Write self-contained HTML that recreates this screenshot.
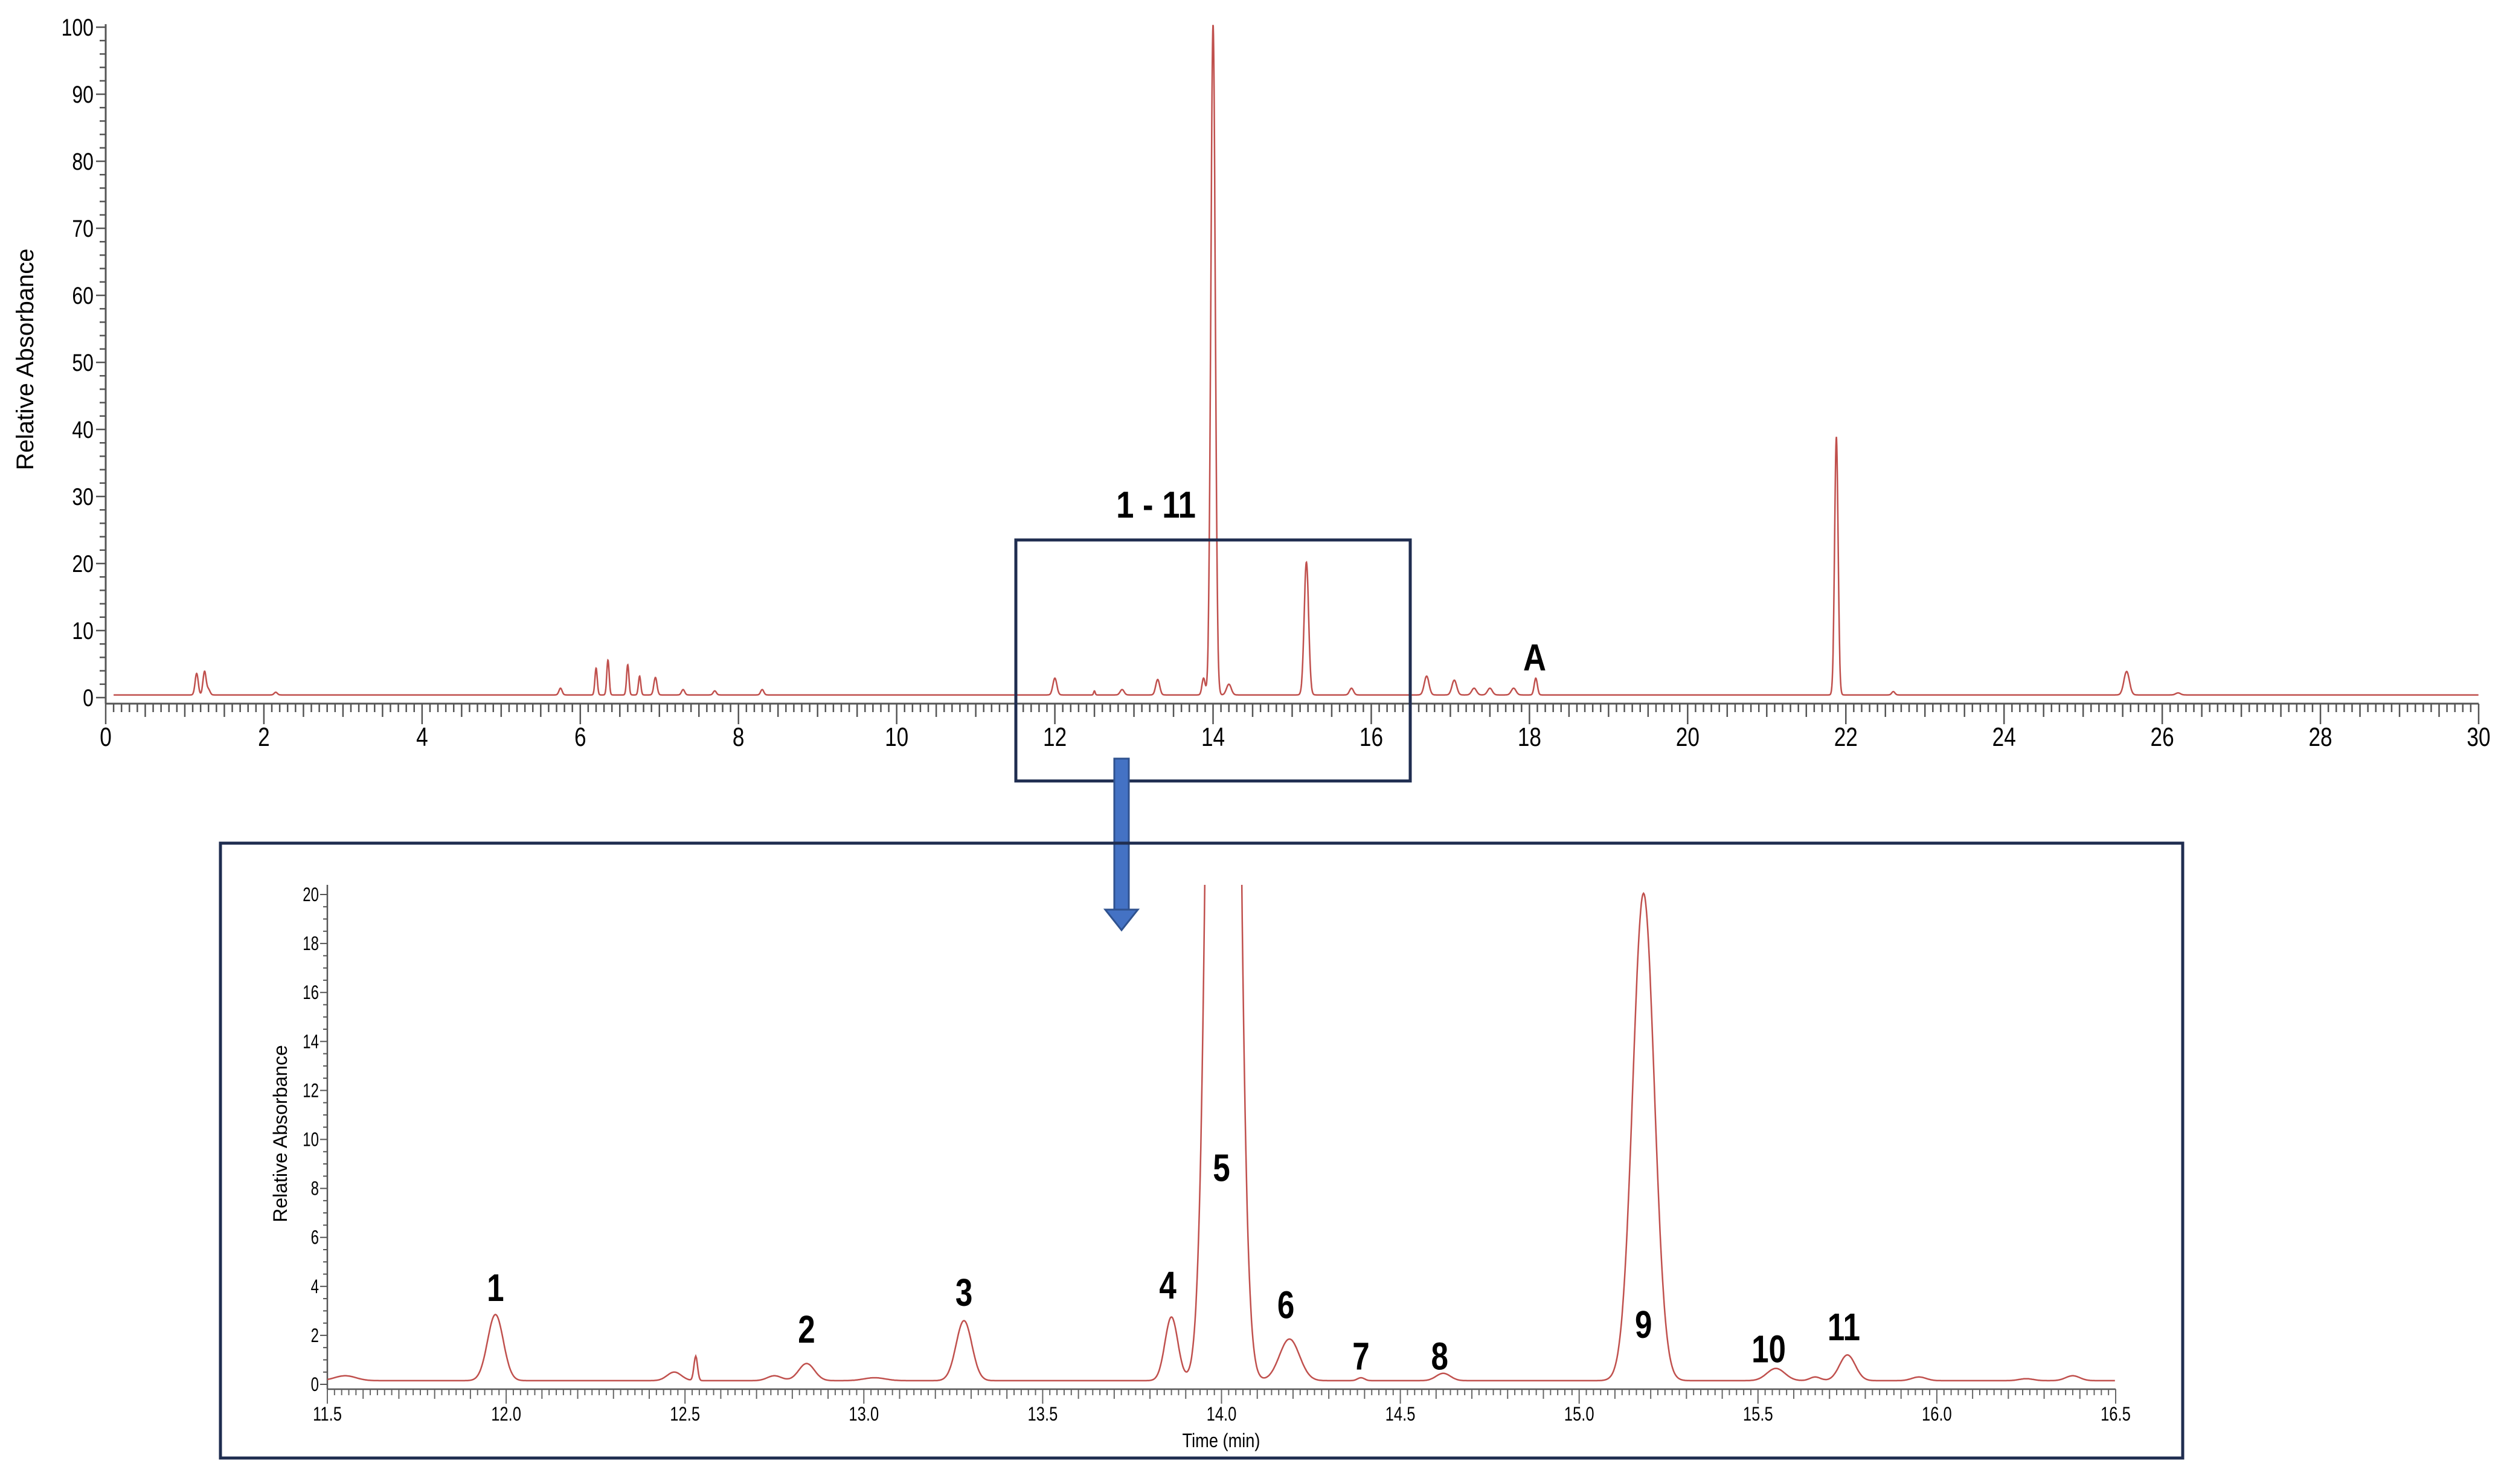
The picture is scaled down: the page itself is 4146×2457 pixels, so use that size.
<!DOCTYPE html>
<html><head><meta charset="utf-8">
<style>
html,body{margin:0;padding:0;background:#fff;}
svg{display:block;}
text{font-family:"Liberation Sans",sans-serif;}
</style></head>
<body>
<svg id="fig" width="4146" height="2457" viewBox="0 0 4146 2457" xmlns="http://www.w3.org/2000/svg">
  <rect width="4146" height="2457" fill="#fff"/>
  <g id="top"></g>
  <g id="bot"></g>
  <rect x="1682" y="894" width="653" height="399" fill="none" stroke="#1f2d50" stroke-width="5"/>
  <text x="1914" y="857" font-size="62" font-weight="bold" text-anchor="middle" transform="translate(1914,0) scale(0.85,1) translate(-1914,0)">1 - 11</text>
  <text x="2541" y="1110" font-size="62" font-weight="bold" text-anchor="middle" transform="translate(2541,0) scale(0.85,1) translate(-2541,0)">A</text>
  <g>
    <rect x="1845" y="1256" width="24" height="250" fill="#4472c4" stroke="#2f528f" stroke-width="3"/>
    <polygon points="1830,1506 1884,1506 1857,1540" fill="#4472c4" stroke="#2f528f" stroke-width="3"/>
  </g>
  <rect x="365" y="1396" width="3249" height="1018" fill="none" stroke="#1f2d50" stroke-width="5"/>
</svg>
<script>
// ---- top chart data ----
const topTimes   = [1.15,1.25,1.3,2.15,5.75,6.2,6.35,6.6,6.75,6.95,7.3,7.7,8.3,12.0,12.5,12.85,13.3,13.88,14.0,14.2,15.18,15.75,16.7,17.05,17.3,17.5,17.8,18.08,21.88,22.6,25.55,26.2];
const topHeights = [3.2,3.5,0.8,0.4,1.0,4.0,5.2,4.5,2.8,2.6,0.8,0.6,0.8,2.5,0.6,0.8,2.3,2.5,100,1.6,19.8,1.0,2.8,2.2,1.0,1.0,1.0,2.5,38.5,0.5,3.5,0.3];
const topWidths  = [0.02,0.02,0.02,0.02,0.02,0.015,0.015,0.015,0.015,0.02,0.02,0.02,0.02,0.025,0.01,0.025,0.025,0.02,0.028,0.03,0.028,0.025,0.03,0.03,0.03,0.03,0.03,0.02,0.022,0.02,0.035,0.03];
const topXTicks = [0,2,4,6,8,10,12,14,16,18,20,22,24,26,28,30];
const topYTicks = [0,10,20,30,40,50,60,70,80,90,100];
// ---- inset data ----
const botTimes   = [11.55,11.97,12.47,12.53,12.75,12.84,13.03,13.28,13.86,14.005,14.19,14.39,14.62,15.18,15.55,15.66,15.75,15.95,16.25,16.38];
const botHeights = [0.2,2.7,0.35,1.0,0.2,0.7,0.12,2.45,2.6,100,1.7,0.12,0.3,19.9,0.5,0.15,1.05,0.15,0.08,0.2];
const botWidths  = [0.03,0.022,0.02,0.005,0.02,0.022,0.03,0.022,0.018,0.029,0.028,0.01,0.02,0.03,0.025,0.015,0.022,0.02,0.02,0.02];
const botXTicks = [11.5,12.0,12.5,13.0,13.5,14.0,14.5,15.0,15.5,16.0,16.5];
const botYTicks = [0,2,4,6,8,10,12,14,16,18,20];
const botLabels = ["1","2","3","4","5","6","7","8","9","10","11"];
const botLabelT = [11.97,12.84,13.28,13.85,14.0,14.18,14.39,14.61,15.18,15.53,15.74];
const botLabelY = [3.4,1.7,3.2,3.5,8.3,2.7,0.6,0.6,1.9,0.9,1.8];

const NS="http://www.w3.org/2000/svg";
function mk(tag,attrs,parent){const e=document.createElementNS(NS,tag);for(const k in attrs)e.setAttribute(k,attrs[k]);parent.appendChild(e);return e;}
function signal(t,T,H,W,base){let s=base;for(let i=0;i<T.length;i++){const d=(t-T[i])/W[i];if(Math.abs(d)<8)s+=H[i]*Math.exp(-0.5*d*d);}return s;}

// ---------- TOP ----------
(function(){
  const g=document.getElementById('top');
  const x0=175,x1=4104,y0=1155,y1=45, X=t=>x0+(t-0)/30*(x1-x0), Y=v=>y0-(v/100)*(y0-y1);
  const ax=mk('line',{x1:x0,y1:y1-5,x2:x0,y2:1165,stroke:'#555','stroke-width':3},g);
  
  const bx=mk('line',{x1:x0,y1:1165,x2:x1,y2:1165,stroke:'#555','stroke-width':3},g);
  
  for(let v=0;v<=100;v+=2){const l=mk('line',{x1:x0-(v%10===0?16:10),y1:Y(v),x2:x0,y2:Y(v),stroke:'#555','stroke-width':2.5},g);
    }
  topYTicks.forEach(v=>{const t=mk('text',{x:x0-20,y:Y(v)+14,'font-size':40,'text-anchor':'end',transform:`translate(${x0-20},0) scale(0.8,1) translate(${-(x0-20)},0)`},g);t.textContent=v;
    });
  for(let i=0;i<=300;i++){const t=i/10;const len=i%20===0?34:(i%5===0?22:14);
    const l=mk('line',{x1:X(t),y1:1165,x2:X(t),y2:1165+len,stroke:'#555','stroke-width':2.5},g);
    }
  topXTicks.forEach(v=>{const t=mk('text',{x:X(v),y:1235,'font-size':44,'text-anchor':'middle',transform:`translate(${X(v)},0) scale(0.8,1) translate(${-X(v)},0)`},g);t.textContent=v;
    });
  const yt=mk('text',{x:0,y:0,'font-size':40,'text-anchor':'middle',transform:'translate(55,595) rotate(-90)'},g);yt.textContent='Relative Absorbance';
  
  let d='';for(let t=0.1;t<=30;t+=0.003){const v=signal(t,topTimes,topHeights,topWidths,0.4);d+=(d?'L':'M')+X(t).toFixed(1)+','+Y(v).toFixed(1);}
  const p=mk('path',{d:d,fill:'none',stroke:'#c0504d','stroke-width':2.5},g);
  
})();

// ---------- BOTTOM ----------
(function(){
  const g=document.getElementById('bot');
  const x0=542,x1=3503,y0=2292,y1=1481, X=t=>x0+(t-11.5)/5*(x1-x0), Y=v=>y0-(v/20)*(y0-y1);
  const cp=mk('clipPath',{id:'bclip'},g);mk('rect',{x:x0,y:1465,width:x1-x0+5,height:900},cp);
  const ax=mk('line',{x1:x0,y1:1465,x2:x0,y2:2300,stroke:'#555','stroke-width':2.5},g);
  
  const bx=mk('line',{x1:x0,y1:2300,x2:x1,y2:2300,stroke:'#555','stroke-width':2.5},g);
  
  for(let i=0;i<=40;i++){const v=i/2;const l=mk('line',{x1:x0-(i%4===0?12:7),y1:Y(v),x2:x0,y2:Y(v),stroke:'#555','stroke-width':2},g);
    }
  botYTicks.forEach(v=>{const t=mk('text',{x:x0-14,y:Y(v)+11,'font-size':32,'text-anchor':'end',transform:`translate(${x0-14},0) scale(0.75,1) translate(${-(x0-14)},0)`},g);t.textContent=v;
    });
  for(let i=0;i<=250;i++){const t=11.5+i*0.02;const len=i%25===0?24:(i%5===0?16:10);
    const l=mk('line',{x1:X(t),y1:2300,x2:X(t),y2:2300+len,stroke:'#666','stroke-width':2},g);
    }
  botXTicks.forEach(v=>{const t=mk('text',{x:X(v),y:2352,'font-size':32,'text-anchor':'middle',transform:`translate(${X(v)},0) scale(0.8,1) translate(${-X(v)},0)`},g);t.textContent=v.toFixed(1);
    });
  const xt=mk('text',{x:2022,y:2396,'font-size':32,'text-anchor':'middle',transform:'translate(2022,0) scale(0.85,1) translate(-2022,0)'},g);xt.textContent='Time (min)';
  
  const yt=mk('text',{x:0,y:0,'font-size':32,'text-anchor':'middle',transform:'translate(475,1877) rotate(-90)'},g);yt.textContent='Relative Absorbance';
  
  let d='';for(let t=11.5;t<=16.5;t+=0.002){const v=signal(t,botTimes,botHeights,botWidths,0.15);d+=(d?'L':'M')+X(t).toFixed(1)+','+Math.max(Y(v),1400).toFixed(1);}
  const p=mk('path',{d:d,fill:'none',stroke:'#c0504d','stroke-width':2.5,'clip-path':'url(#bclip)'},g);
  
  botLabels.forEach((s,i)=>{const x=X(botLabelT[i]);const t=mk('text',{x:x,y:Y(botLabelY[i]),'font-size':64,'font-weight':'bold','text-anchor':'middle',transform:`translate(${x},0) scale(0.8,1) translate(${-x},0)`},g);t.textContent=s;
    });
})();
</script>
</body></html>
